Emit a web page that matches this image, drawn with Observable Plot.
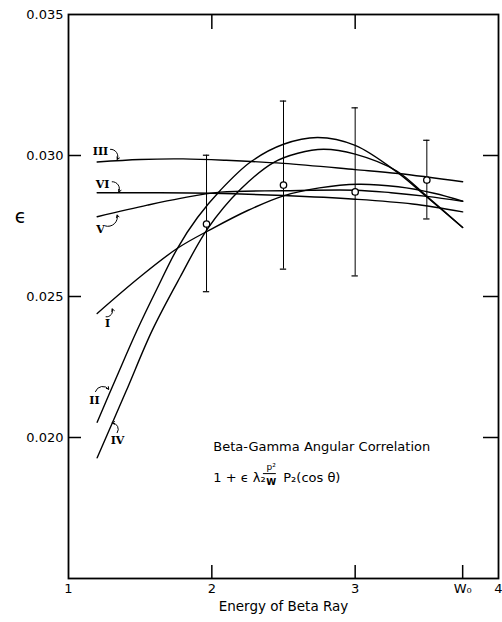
<!DOCTYPE html>
<html><head><meta charset="utf-8">
<script src="https://cdn.jsdelivr.net/npm/d3@7"></script>
<script src="https://cdn.jsdelivr.net/npm/@observablehq/plot@0.6"></script>
<style>body{margin:0;background:#fff} #chart svg{display:block}</style>
</head><body><div id="chart"></div>
<script>
// ---- axes ----
const xDomain = [1, 4];
const yDomain = [0.015, 0.035];
const xTicks = [1, 2, 3, 3.75, 4];
const xTickLabels = ["1", "2", "3", "W₀", "4"];
const yTicks = [0.035, 0.030, 0.025, 0.020];
const yInnerTicks = [0.030, 0.025, 0.020];
const xTopTicks = [2, 3];
const xBottomTicks = [2, 3, 3.75];
const xLabel = "Energy of Beta Ray";
const yLabel = "ϵ";
const yLabelAt = 0.02782;

// ---- theoretical curves ----
const curveNames = ["I", "II", "III", "IV", "V", "VI"];
const E_I   = [1.2, 1.5, 1.76, 2.0, 2.25, 2.5, 2.75, 3.02, 3.3, 3.55, 3.75];
const eps_I = [0.0244, 0.0257, 0.02671, 0.0274, 0.02805, 0.02857, 0.02885, 0.02898, 0.02889, 0.02866, 0.02838];
const E_II   = [1.2, 1.34, 1.48, 1.62, 1.76, 1.9, 2.06, 2.27, 2.5, 2.74, 3.0, 3.29, 3.5, 3.75];
const eps_II = [0.02054, 0.0222, 0.02382, 0.0253, 0.02671, 0.0278, 0.02877, 0.02977, 0.0304, 0.03064, 0.03036, 0.02942, 0.02853, 0.02745];
const E_III   = [1.2, 1.5, 1.8, 2.1, 2.5, 3.0, 3.3, 3.75];
const eps_III = [0.02977, 0.02986, 0.02988, 0.02983, 0.02972, 0.0295, 0.02936, 0.02907];
const E_IV   = [1.2, 1.4, 1.584, 1.78, 1.97, 2.2, 2.43, 2.6, 2.78, 3.0, 3.29, 3.5, 3.75];
const eps_IV = [0.01928, 0.02162, 0.0238, 0.0257, 0.0274, 0.0288, 0.02975, 0.03008, 0.03022, 0.03005, 0.02945, 0.02855, 0.02745];
const E_V   = [1.2, 1.55, 1.78, 2.06, 2.5, 3.0, 3.25, 3.5, 3.75];
const eps_V = [0.02783, 0.02824, 0.02848, 0.0287, 0.02875, 0.02877, 0.02868, 0.02855, 0.02838];
const E_VI   = [1.2, 1.6, 2.0, 2.5, 3.0, 3.4, 3.75];
const eps_VI = [0.02868, 0.02868, 0.02866, 0.02858, 0.02845, 0.02828, 0.028];

// ---- measured points ----
const pointE   = [1.963, 2.5, 3.0, 3.5];
const pointEps = [0.02757, 0.02895, 0.02871, 0.02913];
const errLow   = [0.02517, 0.02597, 0.02573, 0.02775];
const errHigh  = [0.03001, 0.03193, 0.03169, 0.03054];

// ---- curve labels and pointers ----
const labelText = ["III", "VI", "V", "I", "II", "IV"];
const labelE    = [1.223, 1.237, 1.223, 1.272, 1.181, 1.342];
const labelEps  = [0.03015, 0.02898, 0.02736, 0.02403, 0.02131, 0.01989];
const arrowE1   = [1.293, 1.305, 1.258, 1.262, 1.188, 1.340];
const arrowEps1 = [0.03022, 0.02907, 0.0275, 0.02428, 0.02163, 0.02017];
const arrowE2   = [1.340, 1.351, 1.340, 1.305, 1.281, 1.305];
const arrowEps2 = [0.02986, 0.02871, 0.02789, 0.02456, 0.02171, 0.02052];
const arrowBend = [60, 60, -60, -60, 60, -60];

// ---- annotation ----
const noteTitle = "Beta-Gamma Angular Correlation";
const noteE = 2.01;
const noteTitleEps = 0.01968;
const noteFormulaEps = 0.01858;
const fracE = [2.36, 2.45];     // extent of the fraction bar
const fracEps = 0.01872;

// build tables
const curveSeries = {I: [E_I, eps_I], II: [E_II, eps_II], III: [E_III, eps_III], IV: [E_IV, eps_IV], V: [E_V, eps_V], VI: [E_VI, eps_VI]};
const curveData = curveNames.flatMap(n => curveSeries[n][0].map((e, i) => ({curve: n, E: e, eps: curveSeries[n][1][i]})));
const points = pointE.map((e, i) => ({E: e, eps: pointEps[i], lo: errLow[i], hi: errHigh[i]}));
const labels = labelText.map((t, i) => ({text: t, E: labelE[i], eps: labelEps[i]}));
const arrows = labelText.map((t, i) => ({x1: arrowE1[i], y1: arrowEps1[i], x2: arrowE2[i], y2: arrowEps2[i], bend: arrowBend[i]}));

const W = 502, H = 622, mL = 68, mR = 4, mT = 14, mB = 44;
const innerW = W - mL - mR, innerH = H - mT - mB;
const font = "DejaVu Sans";

const chart = Plot.plot({
  width: W, height: H,
  marginLeft: mL, marginRight: mR, marginTop: mT, marginBottom: mB,
  x: {domain: xDomain},
  y: {domain: yDomain},
  style: {fontFamily: font, fontSize: "13px", color: "black", background: "white"},
  marks: [
    Plot.frame({stroke: "black", strokeWidth: 1.8}),
    Plot.tickY(yInnerTicks, {y: d => d, insetRight: innerW - 13, stroke: "black", strokeWidth: 1.5}),
    Plot.tickY(yInnerTicks, {y: d => d, insetLeft: innerW - 15, stroke: "black", strokeWidth: 1.5}),
    Plot.tickX(xTopTicks, {x: d => d, insetBottom: innerH - 15, stroke: "black", strokeWidth: 1.5}),
    Plot.tickX(xBottomTicks, {x: d => d, insetTop: innerH - 13, stroke: "black", strokeWidth: 1.5}),
    Plot.axisY(yTicks, {anchor: "left", tickSize: 0, tickPadding: 5, tickFormat: d3.format(".3f"), label: null, fontSize: 13}),
    Plot.axisX(xTicks, {anchor: "bottom", tickSize: 0, tickPadding: 5, tickFormat: d => xTickLabels[xTicks.indexOf(d)], label: null, fontSize: 13}),
    Plot.text([xLabel], {frameAnchor: "bottom", dy: 32, fontSize: 13.5}),
    Plot.text([yLabel], {x: xDomain[0], y: [yLabelAt], dx: -48, fontSize: 19}),
    Plot.line(curveData, {x: "E", y: "eps", z: "curve", curve: "catmull-rom", stroke: "black", strokeWidth: 1.4}),
    Plot.ruleX(points, {x: "E", y1: "lo", y2: "hi", stroke: "black", strokeWidth: 1}),
    Plot.ruleY(points, {y: "lo", x1: d => d.E - 0.022, x2: d => d.E + 0.022, stroke: "black", strokeWidth: 1.2}),
    Plot.ruleY(points, {y: "hi", x1: d => d.E - 0.022, x2: d => d.E + 0.022, stroke: "black", strokeWidth: 1.2}),
    Plot.dot(points, {x: "E", y: "eps", r: 3.2, fill: "white", stroke: "black", strokeWidth: 1.3}),
    Plot.text(labels, {x: "E", y: "eps", text: "text", fontFamily: "DejaVu Serif", fontWeight: "bold", fontSize: 11}),
    Plot.arrow(arrows.filter(a => a.bend > 0), {x1: "x1", y1: "y1", x2: "x2", y2: "y2", bend: 60, headLength: 4, strokeWidth: 1, stroke: "black"}),
    Plot.arrow(arrows.filter(a => a.bend < 0), {x1: "x1", y1: "y1", x2: "x2", y2: "y2", bend: -60, headLength: 4, strokeWidth: 1, stroke: "black"}),
    Plot.text([noteTitle], {x: [noteE], y: [noteTitleEps], textAnchor: "start", fontSize: 13}),
    Plot.text(["1 + ϵ λ₂"], {x: [noteE], y: [noteFormulaEps], textAnchor: "start", fontSize: 13}),
    Plot.text(["p²"], {x: [noteE], y: [noteFormulaEps], dx: 58, dy: -10, fontSize: 9}),
    Plot.text(["W"], {x: [noteE], y: [noteFormulaEps], dx: 58, dy: 5, fontSize: 9, fontWeight: "bold"}),
    Plot.ruleY([fracEps], {x1: fracE[0], x2: fracE[1], stroke: "black", strokeWidth: 1}),
    Plot.text(["P₂(cos θ)"], {x: [noteE], y: [noteFormulaEps], dx: 70, textAnchor: "start", fontSize: 13})
  ]
});
document.getElementById("chart").appendChild(chart);
</script>
</body></html>
